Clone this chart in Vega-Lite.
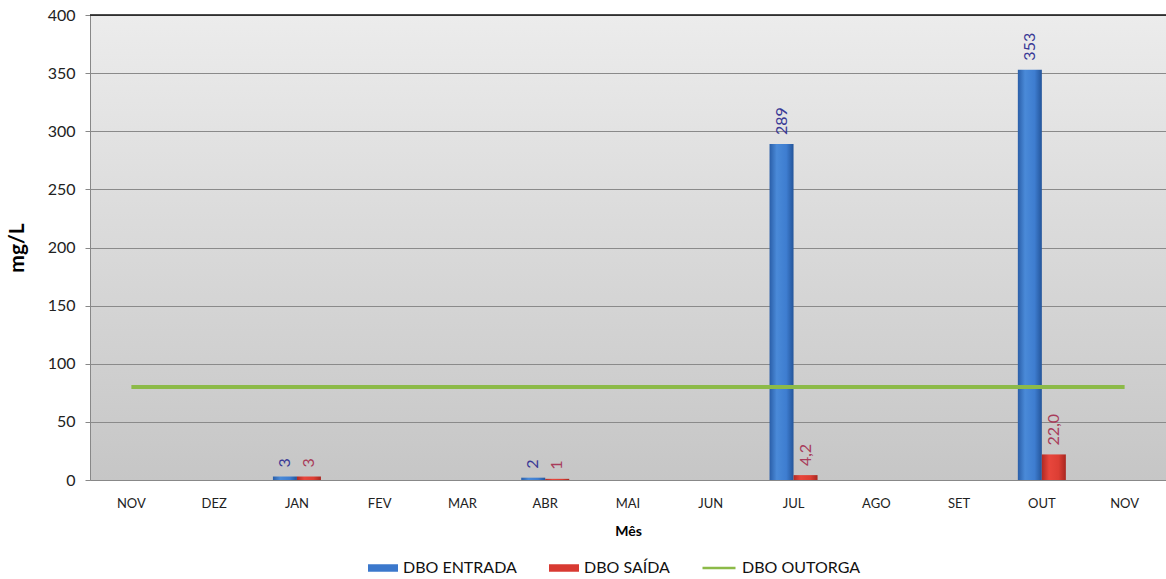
{
  "$schema": "https://vega.github.io/schema/vega-lite/v6.json",
  "autosize": {"type": "none"},
  "width": 1076,
  "height": 465,
  "padding": {"left": 90, "top": 15, "right": 0, "bottom": 99},
  "background": "white",
  "config": {
    "font": "Lato",
    "view": {"stroke": null, "fill": {"gradient": "linear", "x1": 0, "y1": 0, "x2": 0, "y2": 1, "stops": [{"offset": 0, "color": "#ececec"}, {"offset": 1, "color": "#c6c6c6"}]}},
    "axis": {"labelFont": "Lato", "titleFont": "Lato", "labelColor": "#222", "titleColor": "#000"}
  },
  "data": {"values": [
    {"mes": "JAN", "serie": "DBO ENTRADA", "valor": 3, "rotulo": "3"},
    {"mes": "JAN", "serie": "DBO SAÍDA", "valor": 3, "rotulo": "3"},
    {"mes": "ABR", "serie": "DBO ENTRADA", "valor": 2, "rotulo": "2"},
    {"mes": "ABR", "serie": "DBO SAÍDA", "valor": 1, "rotulo": "1"},
    {"mes": "JUL", "serie": "DBO ENTRADA", "valor": 289, "rotulo": "289"},
    {"mes": "JUL", "serie": "DBO SAÍDA", "valor": 4.2, "rotulo": "4,2"},
    {"mes": "OUT", "serie": "DBO ENTRADA", "valor": 353, "rotulo": "353"},
    {"mes": "OUT", "serie": "DBO SAÍDA", "valor": 22.0, "rotulo": "22,0"},
    {"mes": "NOV_1", "serie": "DBO OUTORGA", "valor": 80},
    {"mes": "DEZ", "serie": "DBO OUTORGA", "valor": 80},
    {"mes": "JAN", "serie": "DBO OUTORGA", "valor": 80},
    {"mes": "FEV", "serie": "DBO OUTORGA", "valor": 80},
    {"mes": "MAR", "serie": "DBO OUTORGA", "valor": 80},
    {"mes": "ABR", "serie": "DBO OUTORGA", "valor": 80},
    {"mes": "MAI", "serie": "DBO OUTORGA", "valor": 80},
    {"mes": "JUN", "serie": "DBO OUTORGA", "valor": 80},
    {"mes": "JUL", "serie": "DBO OUTORGA", "valor": 80},
    {"mes": "AGO", "serie": "DBO OUTORGA", "valor": 80},
    {"mes": "SET", "serie": "DBO OUTORGA", "valor": 80},
    {"mes": "OUT", "serie": "DBO OUTORGA", "valor": 80},
    {"mes": "NOV_2", "serie": "DBO OUTORGA", "valor": 80}
  ]},
  "encoding": {
    "y": {"field": "valor", "type": "quantitative", "scale": {"domain": [0, 400]},
      "axis": {"title": "mg/L", "titleFontSize": 21, "titleFontWeight": "bold", "titlePadding": 20, "labelFontSize": 16, "values": [0, 50, 100, 150, 200, 250, 300, 350, 400], "labelOverlap": false, "grid": true, "gridColor": "#8a8a8a", "gridWidth": 1, "domainColor": "#888", "tickColor": "#888", "tickSize": 5, "labelPadding": 10}}
  },
  "layer": [
    {
      "mark": {"type": "bar"},
      "transform": [{"filter": "datum.serie !== 'DBO OUTORGA'"}],
      "encoding": {
        "x": {
          "field": "mes", "type": "nominal",
          "scale": {"domain": ["NOV_1", "DEZ", "JAN", "FEV", "MAR", "ABR", "MAI", "JUN", "JUL", "AGO", "SET", "OUT", "NOV_2"], "paddingInner": 0.42, "paddingOuter": 0.21},
          "axis": {"title": "Mês", "titleFontSize": 14, "titleFontWeight": "bold", "titlePadding": 14, "labelAngle": 0, "labelFontSize": 13, "labelPadding": 17, "labelExpr": "replace(datum.value, /_\\d/, '')", "ticks": false, "domain": true, "domainColor": "#888", "grid": false}
        },
        "xOffset": {"field": "serie", "type": "nominal", "scale": {"domain": ["DBO ENTRADA", "DBO SAÍDA"], "paddingInner": 0}},
        "fill": {
          "condition": {"test": "datum.serie === 'DBO ENTRADA'", "value": {"gradient": "linear", "x1": 0, "y1": 0, "x2": 1, "y2": 0, "stops": [{"offset": 0, "color": "#2a5ea8"}, {"offset": 0.3, "color": "#4a8ad8"}, {"offset": 0.7, "color": "#3e7dd0"}, {"offset": 1, "color": "#24559a"}]}},
          "value": {"gradient": "linear", "x1": 0, "y1": 0, "x2": 1, "y2": 0, "stops": [{"offset": 0, "color": "#b02a24"}, {"offset": 0.3, "color": "#e8463c"}, {"offset": 0.7, "color": "#dc3e34"}, {"offset": 1, "color": "#a82620"}]}
        }
      }
    },
    {
      "mark": {"type": "text", "angle": 270, "align": "left", "baseline": "middle", "dx": 9, "fontSize": 16},
      "transform": [{"filter": "datum.serie !== 'DBO OUTORGA'"}],
      "encoding": {
        "x": {"field": "mes", "type": "nominal"},
        "xOffset": {"field": "serie", "type": "nominal", "scale": {"domain": ["DBO ENTRADA", "DBO SAÍDA"], "paddingInner": 0}},
        "text": {"field": "rotulo"},
        "color": {"condition": {"test": "datum.serie === 'DBO ENTRADA'", "value": "#3a3a96"}, "value": "#a83c5a"}
      }
    },
    {
      "mark": {"type": "line", "strokeWidth": 4},
      "transform": [{"filter": "datum.serie === 'DBO OUTORGA'"}],
      "encoding": {
        "x": {"field": "mes", "type": "nominal"},
        "color": {"field": "serie", "type": "nominal",
          "scale": {"domain": ["DBO ENTRADA", "DBO SAÍDA", "DBO OUTORGA"], "range": ["#3b78cc", "#d83a32", "#8cba48"]},
          "legend": {"title": null, "orient": "none", "legendX": 278, "legendY": 538, "direction": "horizontal", "labelFontSize": 16, "labelFont": "Lato", "labelColor": "#111", "symbolSize": 900, "symbolStrokeWidth": 0, "columnPadding": 32, "labelOffset": 5,
            "symbolType": "M-1,-0.25H1V0.25H-1Z",
            "encode": {"symbols": {"update": {
              "shape": {"signal": "datum.value === 'DBO OUTORGA' ? 'M-1.3,-0.08H0.9V0.08H-1.3Z' : 'M-1,-0.25H1V0.25H-1Z'"},
              "fill": {"signal": "datum.value === 'DBO ENTRADA' ? '#3b78cc' : datum.value === 'DBO SAÍDA' ? '#d83a32' : '#8cba48'"},
              "strokeWidth": {"value": 0}
            }}}}
        }
      }
    },
    {
      "data": {"values": [{"topo": 400}]},
      "mark": {"type": "rule", "color": "#111", "strokeWidth": 1.5},
      "encoding": {"y": {"field": "topo", "type": "quantitative"}}
    }
  ]
}
